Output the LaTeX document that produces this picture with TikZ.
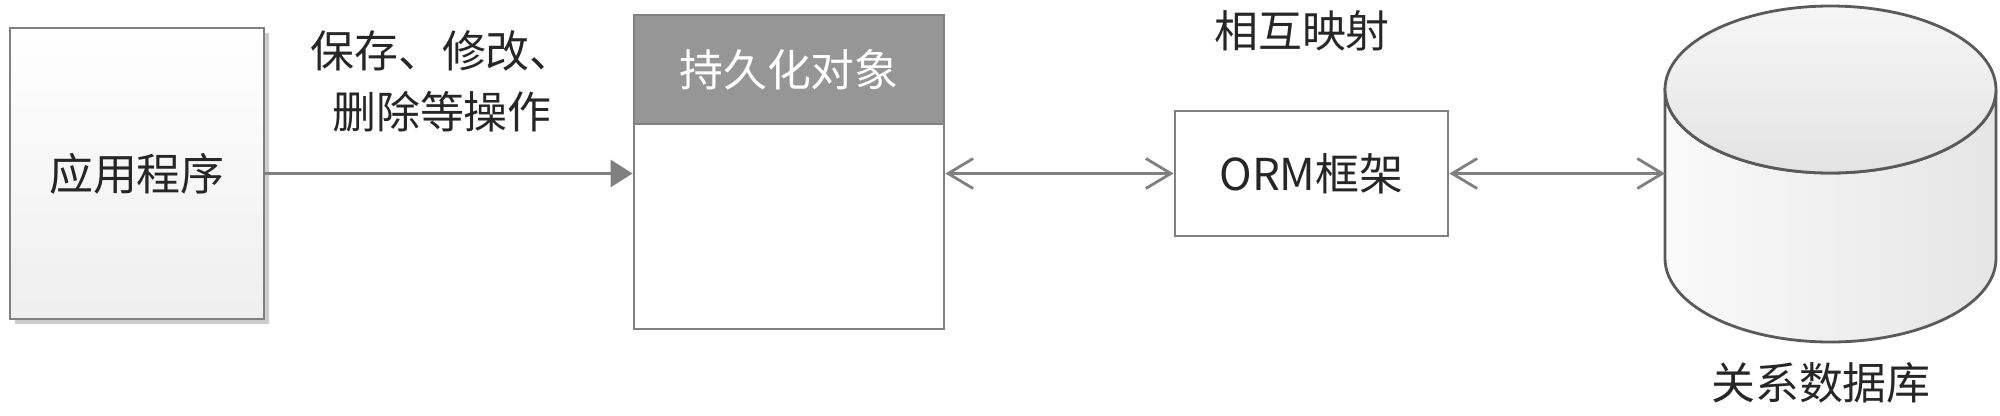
\documentclass[tikz,border=0pt]{standalone}
\usepackage{fontspec}
\setmainfont{Noto Sans CJK SC}
\usetikzlibrary{positioning,arrows.meta,shadows}
\definecolor{linegray}{HTML}{808080}
\definecolor{headgray}{HTML}{969696}
\definecolor{dbline}{HTML}{5A5A5A}
\definecolor{textgray}{HTML}{262626}

\begin{document}
\begin{tikzpicture}[line width=0.8pt, >={Straight Barb[length=2.5mm,width=3mm]},
    box/.style={rectangle, draw=linegray, inner sep=0pt, font=\fontsize{12.5}{17.5}\selectfont, text=textgray},
    lbl/.style={font=\fontsize{12.5}{17.5}\selectfont, text=textgray, align=center, inner sep=0pt},
    conn/.style={draw=linegray}]
  \useasboundingbox (0,0) rectangle (20,4.15);
  \node[box, minimum width=2.54cm, minimum height=2.91cm, top color=white, bottom color=gray!13,
        drop shadow={shadow xshift=0.05cm, shadow yshift=-0.05cm, fill=black, opacity=0.2}] (app) at (1.37,2.415) {应用程序};
  \node[lbl] (ops) at (4.42,3.335) {保存、修改、\\删除等操作};
  \node[box, fill=white, minimum width=3.10cm, minimum height=3.14cm] (obj) at (7.89,2.43) {};
  \node[box, fill=headgray, text=white, minimum width=3.10cm, minimum height=1.09cm, anchor=north] (objhead) at (obj.north) {持久化对象};
  \node[box, minimum width=2.73cm, minimum height=1.25cm] (orm) at (13.115,2.415) {ORM框架};
  \node[lbl] (map) at (13.02,3.84) {相互映射};
  % database
  \shade[left color=gray!4, right color=gray!20, draw=dbline] (16.65,3.255) -- (16.65,1.565)
      arc[start angle=180, end angle=360, x radius=1.655, y radius=0.835] -- (19.96,3.255)
      arc[start angle=0, end angle=-180, x radius=1.655, y radius=0.835] -- cycle;
  \shade[top color=gray!7, bottom color=gray!22, draw=dbline] (18.305,3.255) ellipse[x radius=1.655, y radius=0.835];
  \coordinate (db) at (16.65,2.415);
  \node[lbl] (dbname) at (18.21,0.32) {关系数据库};
  % connectors
  \draw[conn, -{Triangle[length=2.2mm,width=2.7mm]}] (app.east) -- (app.east -| obj.west);
  \draw[conn, <->] (orm.west -| obj.east) -- (orm.west);
  \draw[conn, <->] (orm.east) -- (db);
\end{tikzpicture}
\end{document}
